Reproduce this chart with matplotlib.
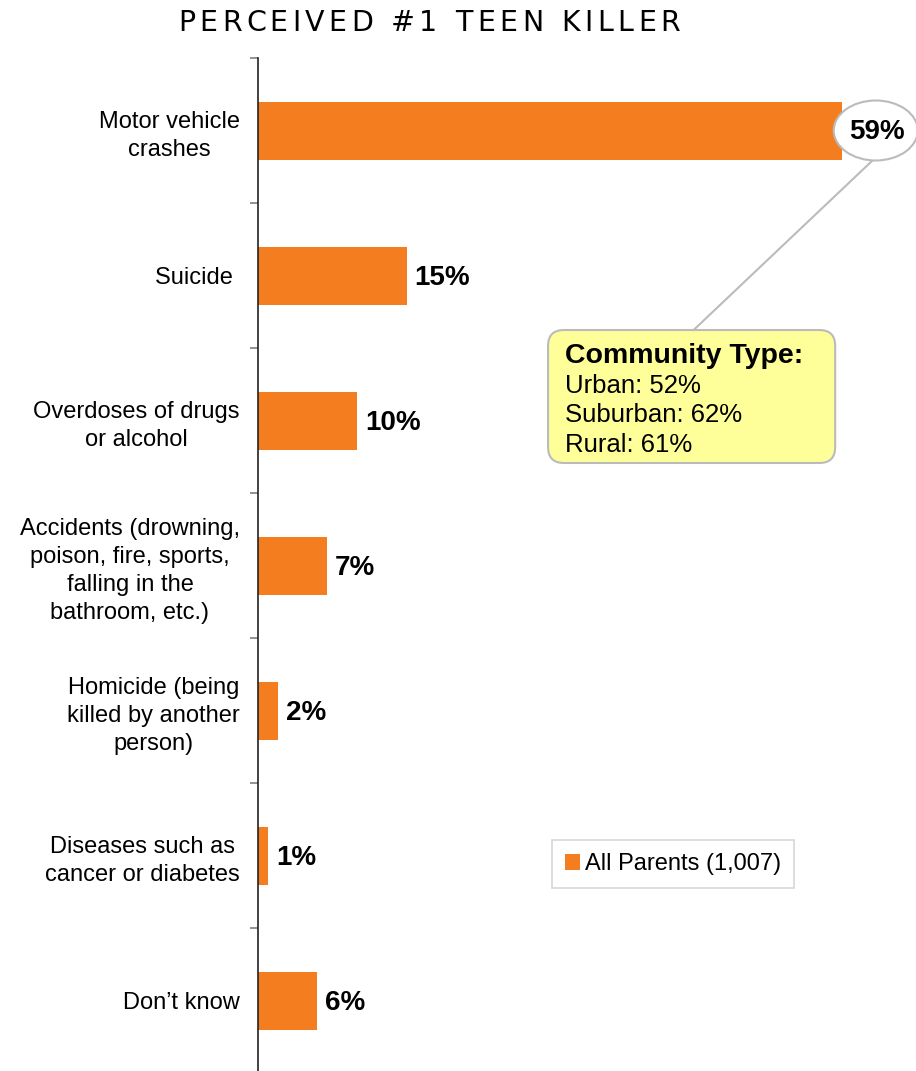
import matplotlib.pyplot as plt
from matplotlib.patches import FancyBboxPatch, Ellipse

categories = [
    "Motor vehicle\ncrashes",
    "Suicide ",
    "Overdoses of drugs\nor alcohol",
    "Accidents (drowning,\npoison, fire, sports,\nfalling in the\nbathroom, etc.)",
    "Homicide (being\nkilled by another\nperson)",
    "Diseases such as\ncancer or diabetes",
    "Don\u2019t know",
]
values = [59, 15, 10, 7, 2, 1, 6]
series_name = "All Parents (1,007)"
callout_title = "Community Type:"
callout_lines = ["Urban: 52%", "Suburban: 62%", "Rural: 61%"]
title = "PERCEIVED #1 TEEN KILLER"

orange = "#F47D20"
plt.rcParams["font.family"] = ["Liberation Sans", "DejaVu Sans"]

W, H = 916, 1071
fig = plt.figure(figsize=(W / 100, H / 100), dpi=100)
ax = fig.add_axes([258 / W, -2 / H, (W - 258) / W, (1073 - 58) / H])

y = list(range(len(categories)))
ax.barh(y, values, height=0.4, color=orange, label=series_name)

ax.set_xlim(0, (W - 258) / 9.9)
ax.set_ylim(len(categories) - 0.5, -0.5)

# category labels, ticks at category boundaries
ax.set_yticks(y)
ax.set_yticklabels(categories, fontsize=17, multialignment="center", linespacing=1.36)
ax.tick_params(axis="y", which="major", length=0, pad=13)
ax.set_yticks([i - 0.5 for i in range(len(categories) + 1)], minor=True)
ax.tick_params(axis="y", which="minor", length=6, width=1.2, color="#808080", direction="out")
ax.set_xticks([])
for s in ["top", "right", "bottom"]:
    ax.spines[s].set_visible(False)
ax.spines["left"].set_color("#222222")
ax.spines["left"].set_linewidth(1.2)

for i, v in enumerate(values):
    if i == 0:
        ax.add_patch(Ellipse((62.4, 0), 84 / 9.9, 60 / 145, fc="white", ec="#BBBBBB", lw=1.5,
                             clip_on=False, zorder=3))
        ax.text(62.5, i + 0.01, f"{v}%", va="center", ha="center", fontsize=20, fontweight="bold", zorder=4)
    else:
        ax.text(v + 0.8, i + 0.015, f"{v}%", va="center", ha="left", fontsize=20, fontweight="bold")

# callout
ax.plot([62.1, 44.0], [0.205, 1.376], color="#BBBBBB", lw=1.5, clip_on=False)
box = FancyBboxPatch((29.3, 1.376), 29.0, 0.917, boxstyle="round,pad=0,rounding_size=1.6",
                     fc="#FFFF99", ec="#BBBBBB", lw=1.5, mutation_aspect=9.9 / 145)
ax.add_patch(box)
ax.text(31.0, 1.555, callout_title, fontsize=20.5, fontweight="bold", va="center", ha="left")
for k, line in enumerate(callout_lines):
    ax.text(31.0, 1.76 + k * 0.203, line, fontsize=18.5, va="center", ha="left")

leg = ax.legend(loc="center", bbox_to_anchor=(673 / W, 1 - 864 / H), bbox_transform=fig.transFigure,
                fontsize=17, frameon=True, fancybox=False, edgecolor="#CCCCCC",
                handlelength=0.65, handleheight=0.65, handletextpad=0.2, borderpad=0.55)
leg.get_frame().set_linewidth(1.2)

# title with letter spacing, drawn char by char
renderer = fig.canvas.get_renderer()
def text_width(s):
    t = fig.text(0, 0, s, fontsize=20.5, family="DejaVu Sans")
    w = t.get_window_extent(renderer).width if s else 0
    t.remove()
    return w

natural = text_width(title)
target = 502
spacing = (target - natural) / (len(title) - 1)
x0 = 429 - target / 2
for i, ch in enumerate(title):
    xi = x0 + text_width(title[:i]) + i * spacing
    fig.text(xi / W, 1 - 23 / H, ch, ha="left", va="center", fontsize=20.5, family="DejaVu Sans")

fig.savefig("out.png", dpi=100)
